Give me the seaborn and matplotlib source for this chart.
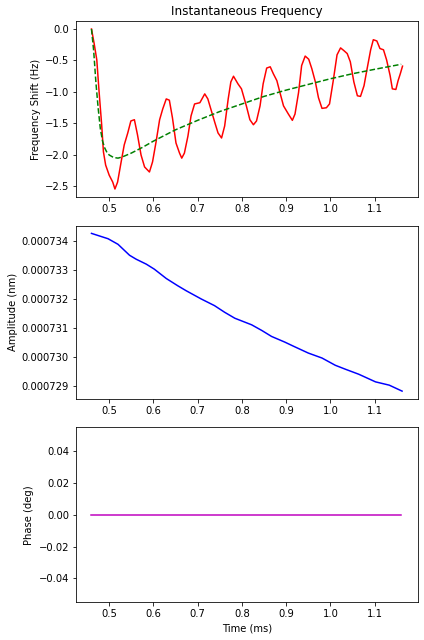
import matplotlib
matplotlib.use("Agg")
import matplotlib.pyplot as plt
import seaborn as sns
import pandas as pd

# ---- data ----
freq_time = [0.46, 0.466, 0.472, 0.477, 0.483, 0.487, 0.492, 0.5, 0.508, 0.513, 0.519, 0.527,
             0.534, 0.542, 0.549, 0.557, 0.564, 0.572, 0.58, 0.591, 0.598, 0.606, 0.614, 0.621,
             0.629, 0.636,
             0.643, 0.651, 0.659, 0.664, 0.67, 0.678, 0.685, 0.693, 0.705, 0.716, 0.723, 0.731,
             0.739, 0.746, 0.754, 0.761, 0.769, 0.775, 0.781, 0.791, 0.799, 0.81, 0.818, 0.826,
             0.833, 0.841, 0.848, 0.856, 0.864, 0.871, 0.879, 0.886, 0.894, 0.905, 0.914, 0.92,
             0.928, 0.935, 0.943, 0.951, 0.958, 0.966, 0.973, 0.981, 0.991, 0.998, 1.006, 1.015,
             1.023, 1.03, 1.038, 1.045, 1.053, 1.061, 1.068, 1.076, 1.083, 1.091, 1.097, 1.105,
             1.112, 1.12, 1.127, 1.135, 1.14, 1.148, 1.153, 1.158, 1.163]
freq_shift = [0.0, -0.23, -0.49, -0.98, -1.52, -1.95, -2.16, -2.32, -2.43, -2.54, -2.43, -2.11,
              -1.84, -1.65, -1.46, -1.44, -1.68, -2.0, -2.19, -2.27, -2.11, -1.79, -1.44, -1.27,
              -1.11, -1.13,
              -1.41, -1.81, -1.97, -2.05, -1.97, -1.70, -1.38, -1.19, -1.17, -1.03, -1.11, -1.30,
              -1.49, -1.65, -1.73, -1.54, -1.11, -0.84, -0.75, -0.87, -0.95, -1.22, -1.44, -1.52,
              -1.46, -1.22, -0.87, -0.62, -0.60, -0.71, -0.82, -1.01, -1.22, -1.35, -1.45, -1.35,
              -1.01, -0.58, -0.43, -0.48, -0.63, -0.84, -1.09, -1.26, -1.25, -1.19, -0.84, -0.41,
              -0.30, -0.34, -0.39, -0.52, -0.84, -1.06, -1.07, -0.90, -0.63, -0.33, -0.17, -0.19,
              -0.31, -0.33, -0.49, -0.74, -0.95, -0.96, -0.82, -0.71, -0.59]

fit_time = [0.46, 0.465, 0.47, 0.475, 0.48, 0.485, 0.49, 0.495, 0.50, 0.51, 0.52, 0.53, 0.55,
            0.575, 0.6, 0.65, 0.7, 0.75, 0.8, 0.85, 0.9, 0.95, 1.0, 1.05, 1.1, 1.16]
fit_shift = [0.0, -0.35, -0.85, -1.25, -1.58, -1.78, -1.89, -1.96, -2.0, -2.04, -2.05, -2.03,
             -1.97, -1.88, -1.78, -1.6, -1.45, -1.31, -1.19, -1.07, -0.97, -0.88, -0.79, -0.71,
             -0.64, -0.56]

amp_time = [0.46, 0.4975, 0.52, 0.546, 0.561, 0.584, 0.602, 0.629, 0.655, 0.674, 0.708, 0.738,
            0.761, 0.784, 0.822, 0.845, 0.867, 0.897, 0.916, 0.95, 0.981, 1.011, 1.034, 1.064,
            1.102, 1.133, 1.162]
amplitude = [7.34263e-4, 7.34079e-4, 7.33887e-4, 7.33511e-4, 7.33375e-4, 7.33204e-4, 7.33033e-4,
             7.32712e-4, 7.32462e-4, 7.32291e-4, 7.32008e-4, 7.31779e-4, 7.31550e-4, 7.31345e-4,
             7.31119e-4, 7.30924e-4, 7.30719e-4, 7.30524e-4, 7.30387e-4, 7.30148e-4, 7.29977e-4,
             7.29728e-4, 7.29591e-4, 7.29420e-4, 7.29157e-4, 7.29044e-4, 7.28839e-4]

phase_time = [0.46, 1.16]
phase = [0.0, 0.0]

# ---- figure ----
plt.rcParams["font.family"] = ["DejaVu Sans"]
plt.rcParams["font.size"] = 10
fig = plt.figure(figsize=(424 / 72, 640 / 72), dpi=72)
fig.patch.set_facecolor("white")

W, H = 424, 640
def rect(left, top, right, bottom):
    return [left / W, 1 - bottom / H, (right - left) / W, (bottom - top) / H]

ax1 = fig.add_axes(rect(76, 21, 418, 197))
ax2 = fig.add_axes(rect(76, 225.5, 418, 399))
ax3 = fig.add_axes(rect(76, 427.3, 418, 602.3))

df_freq = pd.DataFrame({"t": freq_time, "f": freq_shift})
df_fit = pd.DataFrame({"t": fit_time, "f": fit_shift})
df_amp = pd.DataFrame({"t": amp_time, "a": amplitude})
df_ph = pd.DataFrame({"t": phase_time, "p": phase})

sns.lineplot(data=df_freq, x="t", y="f", ax=ax1, color="red", linewidth=1.5)
sns.lineplot(data=df_fit, x="t", y="f", ax=ax1, color="green", linestyle="--", linewidth=1.5)
ax1.set_title("Instantaneous Frequency", fontsize=12)
ax1.set_ylabel("Frequency Shift (Hz)")
ax1.set_xlabel("")

sns.lineplot(data=df_amp, x="t", y="a", ax=ax2, color="blue", linewidth=1.5)
ax2.set_ylabel("Amplitude (nm)")
ax2.set_xlabel("")

sns.lineplot(data=df_ph, x="t", y="p", ax=ax3, color="m", linewidth=1.5)
ax3.set_ylabel("Phase (deg)")
ax3.set_xlabel("Time (ms)")
ax3.set_ylim(-0.055, 0.055)

for ax in (ax1, ax2, ax3):
    ax.set_xlim(0.425, 1.198)

fig.savefig("out.png", dpi=72, facecolor="white")
